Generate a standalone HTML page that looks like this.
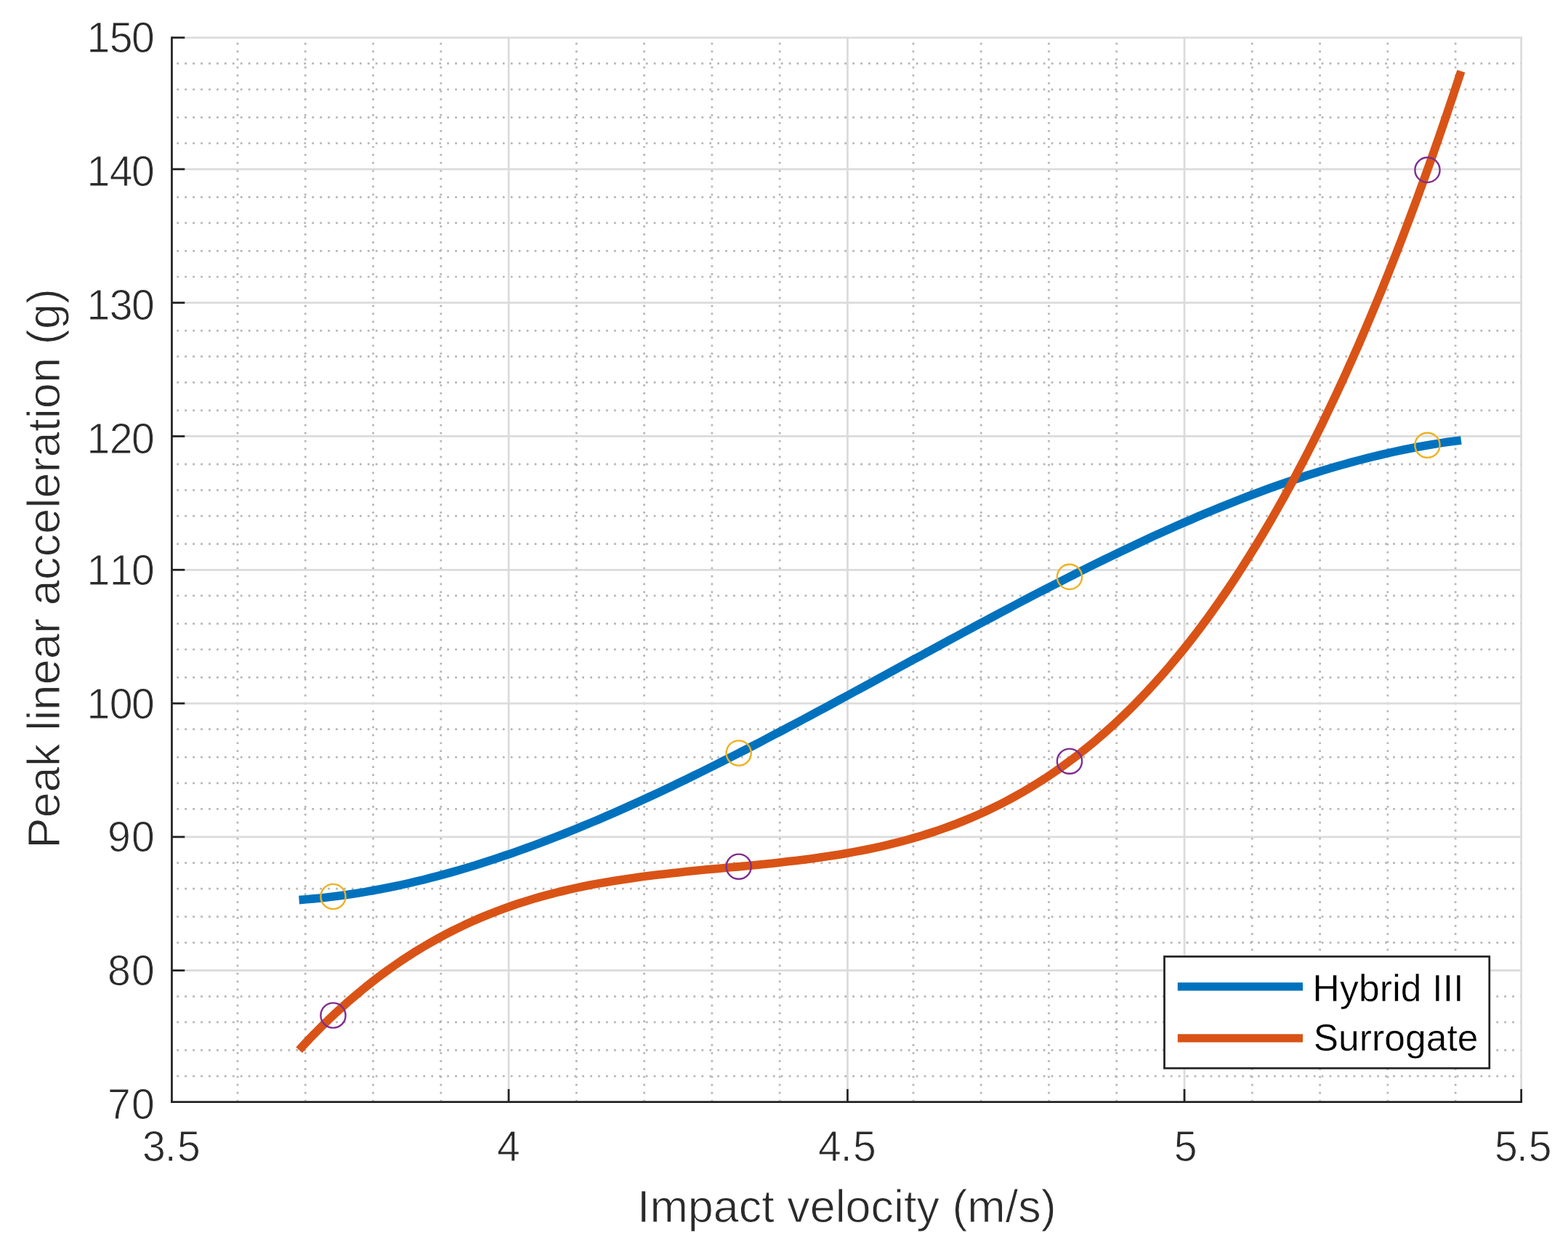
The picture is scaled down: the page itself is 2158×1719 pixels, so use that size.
<!DOCTYPE html>
<html lang="en"><head><meta charset="utf-8"><title>Peak linear acceleration vs impact velocity</title>
<style>html,body{margin:0;padding:0;background:#fff;}body{width:2158px;height:1719px;overflow:hidden;}svg{display:block;}text{font-family:"Liberation Sans",Arial,Helvetica,sans-serif;}.tick{font-size:57.2px;fill:#2c2c2c;stroke:#fff;stroke-width:0.9px;}.lab{font-size:62.9px;fill:#2c2c2c;stroke:#fff;stroke-width:0.9px;}.leg{font-size:51.5px;fill:#000;stroke:#fff;stroke-width:0.4px;}</style></head><body>
<svg width="2158" height="1719" viewBox="0 0 2158 1719">
<defs><filter id="soft" x="0" y="0" width="2158" height="1719" filterUnits="userSpaceOnUse"><feGaussianBlur stdDeviation="0.6"/></filter></defs>
<rect x="0" y="0" width="2158" height="1719" fill="#fff"/>
<g filter="url(#soft)">
<rect x="0" y="0" width="2158" height="1719" fill="#fff"/>
<g stroke="#b6b6b6" stroke-width="2.7433" stroke-dasharray="2.7433 8.1967" fill="none">
<line x1="326.99" y1="58.66" x2="326.99" y2="1515.35"/>
<line x1="420.26" y1="58.66" x2="420.26" y2="1515.35"/>
<line x1="513.53" y1="58.66" x2="513.53" y2="1515.35"/>
<line x1="606.81" y1="58.66" x2="606.81" y2="1515.35"/>
<line x1="793.35" y1="58.66" x2="793.35" y2="1515.35"/>
<line x1="886.62" y1="58.66" x2="886.62" y2="1515.35"/>
<line x1="979.89" y1="58.66" x2="979.89" y2="1515.35"/>
<line x1="1073.17" y1="58.66" x2="1073.17" y2="1515.35"/>
<line x1="1256.97" y1="58.66" x2="1256.97" y2="1515.35"/>
<line x1="1350.24" y1="58.66" x2="1350.24" y2="1515.35"/>
<line x1="1443.51" y1="58.66" x2="1443.51" y2="1515.35"/>
<line x1="1536.78" y1="58.66" x2="1536.78" y2="1515.35"/>
<line x1="1723.33" y1="58.66" x2="1723.33" y2="1515.35"/>
<line x1="1816.60" y1="58.66" x2="1816.60" y2="1515.35"/>
<line x1="1909.87" y1="58.66" x2="1909.87" y2="1515.35"/>
<line x1="2003.15" y1="58.66" x2="2003.15" y2="1515.35"/>
<line x1="243.32" y1="87.46" x2="2095.05" y2="87.46"/>
<line x1="243.32" y1="123.13" x2="2095.05" y2="123.13"/>
<line x1="243.32" y1="161.53" x2="2095.05" y2="161.53"/>
<line x1="243.32" y1="197.19" x2="2095.05" y2="197.19"/>
<line x1="243.32" y1="271.26" x2="2095.05" y2="271.26"/>
<line x1="243.32" y1="306.93" x2="2095.05" y2="306.93"/>
<line x1="243.32" y1="345.33" x2="2095.05" y2="345.33"/>
<line x1="243.32" y1="381.00" x2="2095.05" y2="381.00"/>
<line x1="243.32" y1="455.07" x2="2095.05" y2="455.07"/>
<line x1="243.32" y1="490.73" x2="2095.05" y2="490.73"/>
<line x1="243.32" y1="526.39" x2="2095.05" y2="526.39"/>
<line x1="243.32" y1="564.80" x2="2095.05" y2="564.80"/>
<line x1="243.32" y1="638.87" x2="2095.05" y2="638.87"/>
<line x1="243.32" y1="674.53" x2="2095.05" y2="674.53"/>
<line x1="243.32" y1="710.19" x2="2095.05" y2="710.19"/>
<line x1="243.32" y1="748.60" x2="2095.05" y2="748.60"/>
<line x1="243.32" y1="819.92" x2="2095.05" y2="819.92"/>
<line x1="243.32" y1="858.33" x2="2095.05" y2="858.33"/>
<line x1="243.32" y1="893.99" x2="2095.05" y2="893.99"/>
<line x1="243.32" y1="932.40" x2="2095.05" y2="932.40"/>
<line x1="243.32" y1="1003.73" x2="2095.05" y2="1003.73"/>
<line x1="243.32" y1="1042.13" x2="2095.05" y2="1042.13"/>
<line x1="243.32" y1="1077.79" x2="2095.05" y2="1077.79"/>
<line x1="243.32" y1="1113.46" x2="2095.05" y2="1113.46"/>
<line x1="243.32" y1="1187.53" x2="2095.05" y2="1187.53"/>
<line x1="243.32" y1="1223.19" x2="2095.05" y2="1223.19"/>
<line x1="243.32" y1="1261.60" x2="2095.05" y2="1261.60"/>
<line x1="243.32" y1="1297.26" x2="2095.05" y2="1297.26"/>
<line x1="243.32" y1="1371.33" x2="2095.05" y2="1371.33"/>
<line x1="243.32" y1="1406.99" x2="2095.05" y2="1406.99"/>
<line x1="243.32" y1="1445.40" x2="2095.05" y2="1445.40"/>
<line x1="243.32" y1="1481.06" x2="2095.05" y2="1481.06"/>
</g>
<g stroke="#dbdbdb" stroke-width="2.7433" fill="none">
<line x1="700.08" y1="50.43" x2="700.08" y2="1516.72"/>
<line x1="1166.44" y1="50.43" x2="1166.44" y2="1516.72"/>
<line x1="1630.06" y1="50.43" x2="1630.06" y2="1516.72"/>
<line x1="2093.67" y1="50.43" x2="2093.67" y2="1516.72"/>
<line x1="236.46" y1="51.80" x2="2095.05" y2="51.80"/>
<line x1="236.46" y1="232.86" x2="2095.05" y2="232.86"/>
<line x1="236.46" y1="416.66" x2="2095.05" y2="416.66"/>
<line x1="236.46" y1="600.46" x2="2095.05" y2="600.46"/>
<line x1="236.46" y1="784.26" x2="2095.05" y2="784.26"/>
<line x1="236.46" y1="968.06" x2="2095.05" y2="968.06"/>
<line x1="236.46" y1="1151.86" x2="2095.05" y2="1151.86"/>
<line x1="236.46" y1="1335.66" x2="2095.05" y2="1335.66"/>
</g>
<path d="M411.6 1238.6 L421.7 1237.8 L431.7 1236.9 L441.8 1235.9 L451.8 1234.8 L461.9 1233.6 L472.0 1232.2 L482.0 1230.8 L492.1 1229.3 L502.1 1227.6 L512.2 1225.8 L522.2 1224.0 L532.3 1222.0 L542.4 1220.0 L552.4 1217.8 L562.5 1215.6 L572.5 1213.2 L582.6 1210.8 L592.7 1208.2 L602.7 1205.6 L612.8 1202.9 L622.8 1200.1 L632.9 1197.2 L642.9 1194.2 L653.0 1191.2 L663.1 1188.0 L673.1 1184.8 L683.2 1181.5 L693.2 1178.1 L703.3 1174.7 L713.4 1171.1 L723.4 1167.5 L733.5 1163.9 L743.5 1160.1 L753.6 1156.3 L763.6 1152.4 L773.7 1148.5 L783.8 1144.4 L793.8 1140.4 L803.9 1136.2 L813.9 1132.0 L824.0 1127.8 L834.1 1123.4 L844.1 1119.1 L854.2 1114.6 L864.2 1110.1 L874.3 1105.6 L884.3 1101.0 L894.4 1096.4 L904.5 1091.7 L914.5 1086.9 L924.6 1082.2 L934.6 1077.3 L944.7 1072.5 L954.8 1067.5 L964.8 1062.6 L974.9 1057.6 L984.9 1052.6 L995.0 1047.5 L1005.1 1042.4 L1015.1 1037.3 L1025.2 1032.2 L1035.2 1027.0 L1045.3 1021.8 L1055.3 1016.5 L1065.4 1011.2 L1075.5 1006.0 L1085.5 1000.6 L1095.6 995.3 L1105.6 990.0 L1115.7 984.6 L1125.8 979.2 L1135.8 973.8 L1145.9 968.4 L1155.9 962.9 L1166.0 957.5 L1176.0 952.0 L1186.1 946.6 L1196.2 941.1 L1206.2 935.6 L1216.3 930.2 L1226.3 924.7 L1236.4 919.2 L1246.5 913.7 L1256.5 908.2 L1266.6 902.8 L1276.6 897.3 L1286.7 891.8 L1296.7 886.4 L1306.8 880.9 L1316.9 875.5 L1326.9 870.0 L1337.0 864.6 L1347.0 859.2 L1357.1 853.8 L1367.2 848.5 L1377.2 843.1 L1387.3 837.8 L1397.3 832.5 L1407.4 827.2 L1417.4 821.9 L1427.5 816.7 L1437.6 811.5 L1447.6 806.3 L1457.7 801.2 L1467.7 796.1 L1477.8 791.0 L1487.9 785.9 L1497.9 780.9 L1508.0 775.9 L1518.0 771.0 L1528.1 766.1 L1538.2 761.2 L1548.2 756.4 L1558.3 751.7 L1568.3 746.9 L1578.4 742.2 L1588.4 737.6 L1598.5 733.0 L1608.6 728.5 L1618.6 724.0 L1628.7 719.6 L1638.7 715.3 L1648.8 710.9 L1658.9 706.7 L1668.9 702.5 L1679.0 698.4 L1689.0 694.3 L1699.1 690.3 L1709.1 686.4 L1719.2 682.5 L1729.3 678.7 L1739.3 675.0 L1749.4 671.3 L1759.4 667.7 L1769.5 664.2 L1779.6 660.8 L1789.6 657.4 L1799.7 654.1 L1809.7 650.9 L1819.8 647.8 L1829.8 644.8 L1839.9 641.8 L1850.0 639.0 L1860.0 636.2 L1870.1 633.5 L1880.1 630.9 L1890.2 628.4 L1900.3 626.0 L1910.3 623.6 L1920.4 621.4 L1930.4 619.3 L1940.5 617.2 L1950.5 615.3 L1960.6 613.5 L1970.7 611.8 L1980.7 610.1 L1990.8 608.6 L2000.8 607.2 L2010.9 605.9" fill="none" stroke="#0072bd" stroke-width="11.6" stroke-linejoin="round"/>
<path d="M411.6 1445.1 L421.7 1434.3 L431.7 1423.8 L441.8 1413.7 L451.8 1403.8 L461.9 1394.3 L472.0 1385.1 L482.0 1376.2 L492.1 1367.7 L502.1 1359.4 L512.2 1351.4 L522.2 1343.7 L532.3 1336.3 L542.4 1329.1 L552.4 1322.2 L562.5 1315.6 L572.5 1309.2 L582.6 1303.1 L592.7 1297.2 L602.7 1291.6 L612.8 1286.2 L622.8 1281.0 L632.9 1276.1 L642.9 1271.3 L653.0 1266.8 L663.1 1262.4 L673.1 1258.3 L683.2 1254.4 L693.2 1250.6 L703.3 1247.0 L713.4 1243.6 L723.4 1240.4 L733.5 1237.3 L743.5 1234.4 L753.6 1231.6 L763.6 1229.0 L773.7 1226.5 L783.8 1224.2 L793.8 1221.9 L803.9 1219.8 L813.9 1217.8 L824.0 1215.9 L834.1 1214.2 L844.1 1212.5 L854.2 1210.9 L864.2 1209.4 L874.3 1207.9 L884.3 1206.6 L894.4 1205.3 L904.5 1204.0 L914.5 1202.9 L924.6 1201.7 L934.6 1200.7 L944.7 1199.6 L954.8 1198.6 L964.8 1197.6 L974.9 1196.6 L984.9 1195.7 L995.0 1194.7 L1005.1 1193.8 L1015.1 1192.9 L1025.2 1191.9 L1035.2 1190.9 L1045.3 1189.9 L1055.3 1188.9 L1065.4 1187.9 L1075.5 1186.8 L1085.5 1185.6 L1095.6 1184.4 L1105.6 1183.2 L1115.7 1181.9 L1125.8 1180.5 L1135.8 1179.1 L1145.9 1177.5 L1155.9 1175.9 L1166.0 1174.2 L1176.0 1172.4 L1186.1 1170.5 L1196.2 1168.5 L1206.2 1166.3 L1216.3 1164.1 L1226.3 1161.7 L1236.4 1159.2 L1246.5 1156.5 L1256.5 1153.7 L1266.6 1150.7 L1276.6 1147.6 L1286.7 1144.4 L1296.7 1140.9 L1306.8 1137.3 L1316.9 1133.5 L1326.9 1129.5 L1337.0 1125.3 L1347.0 1121.0 L1357.1 1116.4 L1367.2 1111.6 L1377.2 1106.6 L1387.3 1101.4 L1397.3 1095.9 L1407.4 1090.2 L1417.4 1084.3 L1427.5 1078.1 L1437.6 1071.7 L1447.6 1065.0 L1457.7 1058.1 L1467.7 1050.8 L1477.8 1043.3 L1487.9 1035.6 L1497.9 1027.5 L1508.0 1019.2 L1518.0 1010.5 L1528.1 1001.6 L1538.2 992.3 L1548.2 982.7 L1558.3 972.8 L1568.3 962.6 L1578.4 952.0 L1588.4 941.1 L1598.5 929.9 L1608.6 918.3 L1618.6 906.3 L1628.7 894.0 L1638.7 881.3 L1648.8 868.2 L1658.9 854.8 L1668.9 840.9 L1679.0 826.7 L1689.0 812.1 L1699.1 797.0 L1709.1 781.6 L1719.2 765.7 L1729.3 749.4 L1739.3 732.7 L1749.4 715.6 L1759.4 698.0 L1769.5 680.0 L1779.6 661.5 L1789.6 642.5 L1799.7 623.1 L1809.7 603.3 L1819.8 582.9 L1829.8 562.1 L1839.9 540.8 L1850.0 518.9 L1860.0 496.6 L1870.1 473.8 L1880.1 450.5 L1890.2 426.6 L1900.3 402.3 L1910.3 377.4 L1920.4 351.9 L1930.4 326.0 L1940.5 299.4 L1950.5 272.4 L1960.6 244.7 L1970.7 216.5 L1980.7 187.8 L1990.8 158.4 L2000.8 128.5 L2010.9 98.0" fill="none" stroke="#d95319" stroke-width="11.6" stroke-linejoin="round"/>
<circle cx="458.5" cy="1234.0" r="17.1" fill="none" stroke="#edb120" stroke-width="2.4"/>
<circle cx="1016.7" cy="1036.5" r="17.1" fill="none" stroke="#edb120" stroke-width="2.4"/>
<circle cx="1472.0" cy="793.9" r="17.1" fill="none" stroke="#edb120" stroke-width="2.4"/>
<circle cx="1964.5" cy="612.8" r="17.1" fill="none" stroke="#edb120" stroke-width="2.4"/>
<circle cx="458.5" cy="1397.5" r="17.1" fill="none" stroke="#7e2f8e" stroke-width="2.4"/>
<circle cx="1016.7" cy="1192.7" r="17.1" fill="none" stroke="#7e2f8e" stroke-width="2.4"/>
<circle cx="1472.0" cy="1047.7" r="17.1" fill="none" stroke="#7e2f8e" stroke-width="2.4"/>
<circle cx="1964.5" cy="233.9" r="17.1" fill="none" stroke="#7e2f8e" stroke-width="2.4"/>
<g stroke="#242424" stroke-width="2.7433" fill="none">
<line x1="236.46" y1="50.43" x2="236.46" y2="1518.09"/>
<line x1="235.09" y1="1516.72" x2="2095.05" y2="1516.72"/>
<line x1="700.08" y1="1516.72" x2="700.08" y2="1498.89"/>
<line x1="1166.44" y1="1516.72" x2="1166.44" y2="1498.89"/>
<line x1="1630.06" y1="1516.72" x2="1630.06" y2="1498.89"/>
<line x1="2093.67" y1="1516.72" x2="2093.67" y2="1498.89"/>
<line x1="236.46" y1="51.80" x2="254.29" y2="51.80"/>
<line x1="236.46" y1="232.86" x2="254.29" y2="232.86"/>
<line x1="236.46" y1="416.66" x2="254.29" y2="416.66"/>
<line x1="236.46" y1="600.46" x2="254.29" y2="600.46"/>
<line x1="236.46" y1="784.26" x2="254.29" y2="784.26"/>
<line x1="236.46" y1="968.06" x2="254.29" y2="968.06"/>
<line x1="236.46" y1="1151.86" x2="254.29" y2="1151.86"/>
<line x1="236.46" y1="1335.66" x2="254.29" y2="1335.66"/>
</g>
<text class="tick" transform="translate(0 72.30) scale(1 1.043)" x="119.50 150.80 181.00" y="0">150</text>
<text class="tick" transform="translate(0 256.10) scale(1 1.043)" x="119.50 150.80 181.00" y="0">140</text>
<text class="tick" transform="translate(0 439.90) scale(1 1.043)" x="119.50 150.80 181.00" y="0">130</text>
<text class="tick" transform="translate(0 623.70) scale(1 1.043)" x="119.50 150.80 181.00" y="0">120</text>
<text class="tick" transform="translate(0 804.76) scale(1 1.043)" x="119.50 150.80 181.00" y="0">110</text>
<text class="tick" transform="translate(0 988.56) scale(1 1.043)" x="119.50 150.80 181.00" y="0">100</text>
<text class="tick" transform="translate(0 1172.36) scale(1 1.043)" x="148.10 181.00" y="0">90</text>
<text class="tick" transform="translate(0 1356.16) scale(1 1.043)" x="148.10 181.00" y="0">80</text>
<text class="tick" transform="translate(0 1539.97) scale(1 1.043)" x="148.10 181.00" y="0">70</text>
<text class="tick" transform="translate(0 1598.10) scale(1 1.043)" x="195.91 226.71 244.01" y="0">3.5</text>
<text class="tick" transform="translate(0 1598.10) scale(1 1.043)" x="683.88" y="0">4</text>
<text class="tick" transform="translate(0 1598.10) scale(1 1.043)" x="1125.89 1156.69 1173.99" y="0">4.5</text>
<text class="tick" transform="translate(0 1598.10) scale(1 1.043)" x="1615.66" y="0">5</text>
<text class="tick" transform="translate(0 1598.10) scale(1 1.043)" x="2057.12 2086.92 2103.82" y="0">5.5</text>
<text class="lab" x="1165.3" y="1682.3" text-anchor="middle">Impact velocity (m/s)</text>
<text class="lab" transform="translate(81.6 782.2) rotate(-90)" text-anchor="middle" textLength="770.5" lengthAdjust="spacing">Peak linear acceleration (g)</text>
<rect x="1602.5" y="1316.5" width="447.3" height="153.7" fill="#fff" stroke="#242424" stroke-width="2.7433"/>
<line x1="1620.8" y1="1357.9" x2="1793" y2="1357.9" stroke="#0072bd" stroke-width="11.4"/>
<line x1="1620.8" y1="1428.9" x2="1793" y2="1428.9" stroke="#d95319" stroke-width="11.4"/>
<text class="leg" x="1806.6" y="1378" textLength="207.9" lengthAdjust="spacing">Hybrid III</text>
<text class="leg" x="1807.7" y="1446.4" textLength="226.7" lengthAdjust="spacing">Surrogate</text>
</g>
</svg></body></html>
